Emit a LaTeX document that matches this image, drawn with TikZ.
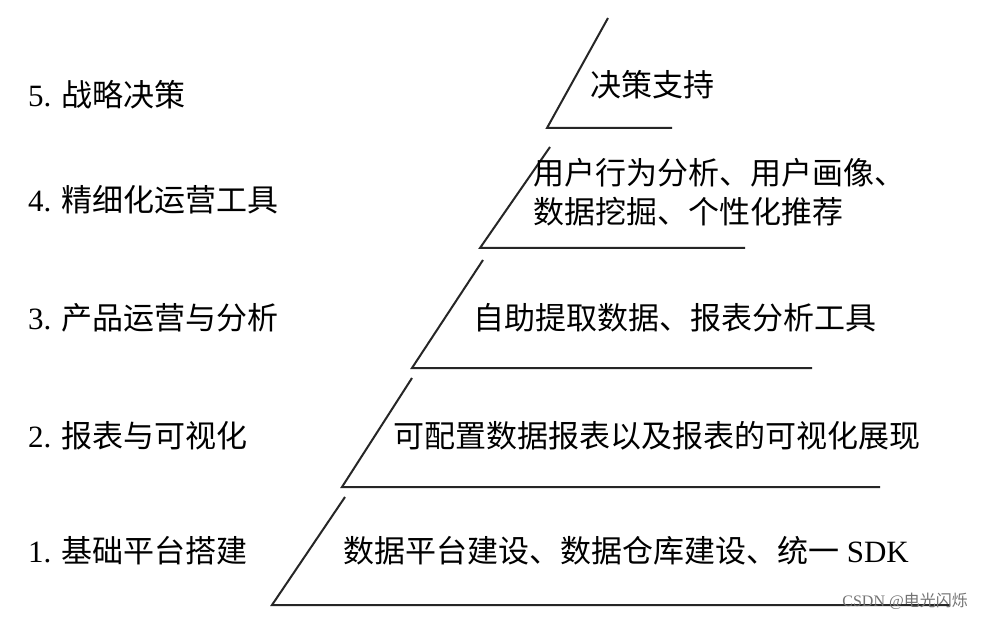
\documentclass[tikz,border=0pt]{standalone}
\usepackage{fontspec}
\setmainfont{Liberation Serif}
\newfontfamily\cjk{Noto Sans CJK SC}[Scale=1.0]
\begin{document}
\begin{tikzpicture}[x=1pt,y=-1pt,
  stepline/.style={line width=2pt,black!85},
  lab/.style={anchor=west,font=\fontsize{31}{36}\selectfont,inner sep=0},
  txt/.style={font=\fontsize{31}{36}\selectfont,inner sep=0}]
\fill[white] (0,0) rectangle (982,620);
\useasboundingbox (0,0) rectangle (982,620);
% steps
\draw[stepline] (608,18) -- (547,128) -- (672,128);
\draw[stepline] (550,147) -- (480,248) -- (745,248);
\draw[stepline] (483,260) -- (412,368) -- (812,368);
\draw[stepline] (412,378) -- (342,487) -- (880,487);
\draw[stepline] (345,497) -- (272,605) -- (950,605);
% left labels
\node[lab] (l5) at (28,95) {5. {\cjk 战略决策}};
\node[lab] (l4) at (28,200) {4. {\cjk 精细化运营工具}};
\node[lab] (l3) at (28,318) {3. {\cjk 产品运营与分析}};
\node[lab] (l2) at (28,436) {2. {\cjk 报表与可视化}};
\node[lab] (l1) at (28,551) {1. {\cjk 基础平台搭建}};
% right texts
\node[txt] (r5) at (652,85) {\cjk 决策支持};
\node[txt,anchor=west] (r4a) at (533,173) {\cjk 用户行为分析、用户画像、};
\node[txt,anchor=west] (r4b) at (533,212) {\cjk 数据挖掘、个性化推荐};
\node[txt] (r3) at (675,318) {\cjk 自助提取数据、报表分析工具};
\node[txt] (r2) at (657,436) {\cjk 可配置数据报表以及报表的可视化展现};
\node[txt] (r1) at (626,551) {{\cjk 数据平台建设、数据仓库建设、统一} SDK};
\node[font=\fontsize{16}{18}\selectfont,text=black!55,anchor=east,inner sep=0] (wm) at (968,601) {CSDN @{\cjk 电光闪烁}};
\end{tikzpicture}
\end{document}
